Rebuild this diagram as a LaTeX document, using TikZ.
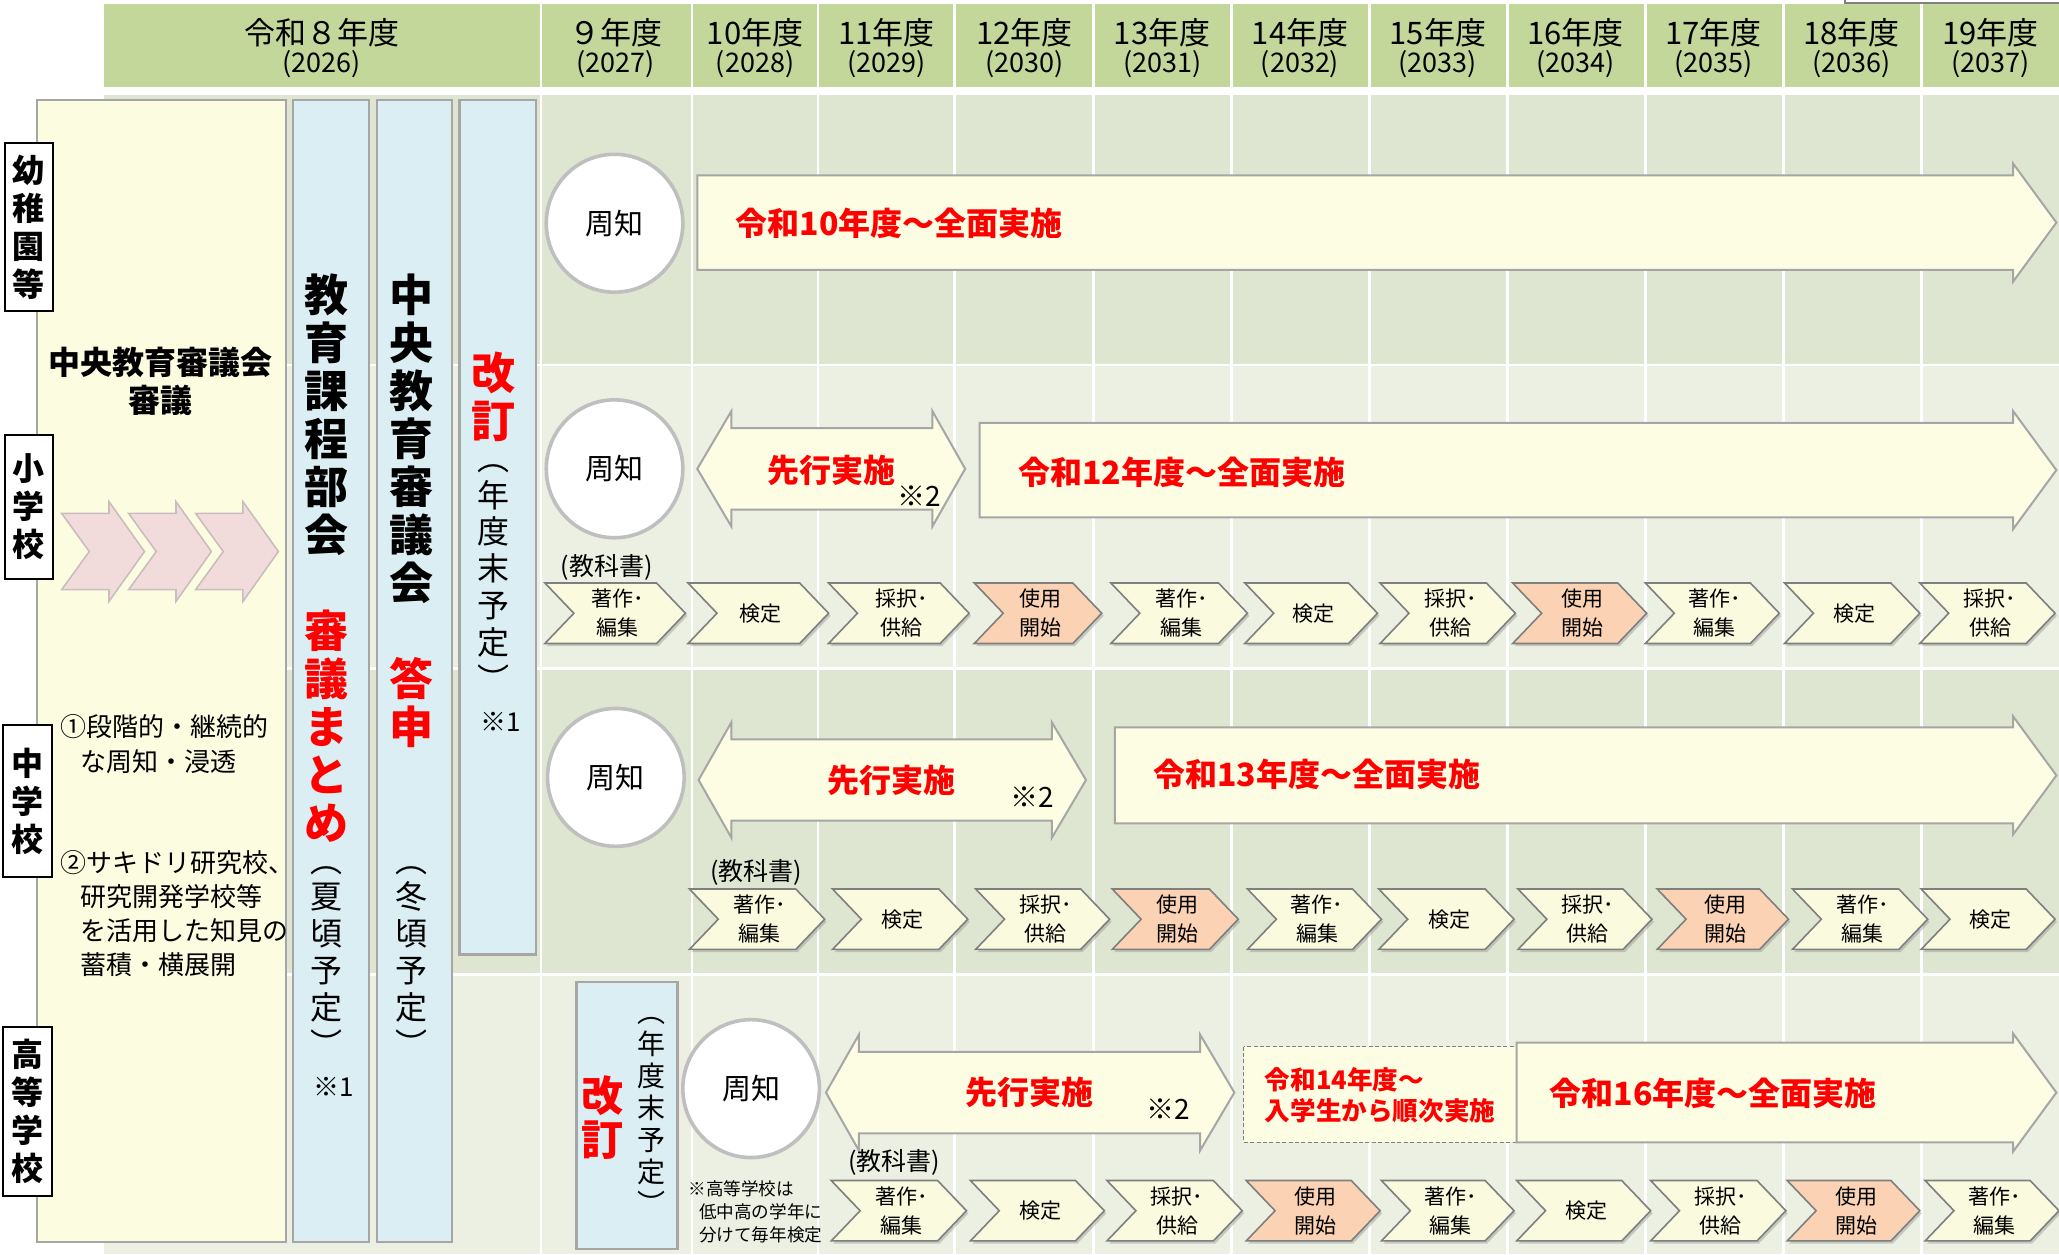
\documentclass[tikz,border=0pt]{standalone}
\usepackage{fontspec}
\setmainfont{Noto Sans CJK JP}
\usetikzlibrary{shapes.geometric,shadows}
\definecolor{hdr}{HTML}{C4D79B}
\definecolor{rowA}{HTML}{DEE6D1}
\definecolor{rowB}{HTML}{EBF0E2}
\definecolor{ylw}{HTML}{FCFCE1}
\definecolor{ylw2}{HTML}{FDFDE3}
\definecolor{blu}{HTML}{DAEEF3}
\definecolor{chv}{HTML}{FAFADE}
\definecolor{sal}{HTML}{FBD3B4}
\definecolor{pnk}{HTML}{F2DCDB}
\definecolor{pnkb}{HTML}{C9BDBD}
\definecolor{bord}{HTML}{A6A6A6}
\definecolor{chvb}{HTML}{7F7F7F}
\definecolor{circb}{HTML}{BFBFBF}
\definecolor{red1}{HTML}{FF0000}
\newcommand\myfs[2]{\fontsize{#1pt}{#2pt}\selectfont}
\newcommand\txTH{著作･\\編集}
\newcommand\txKT{検定}
\newcommand\txSK{採択･\\供給}
\newcommand\txSY{使用\\開始}
\tikzset{
  chevline/.style={draw=chvb, line width=0.8pt},
  chevtext/.style={inner sep=0pt, align=center, font=\myfs{10.5}{14.5}},
  arrst/.style={fill=ylw2, draw=bord, line width=1pt},
  vt/.style={inner sep=0pt, align=center},
  lbl/.style={draw=black, line width=1pt, fill=white, inner sep=0pt, align=center, font=\myfs{16}{19}\bfseries},
  circ/.style={ellipse, draw=circb, line width=1.8pt, fill=white, inner sep=0pt, minimum width=104*0.65655pt, minimum height=105*0.65655pt, font=\myfs{14.5}{16}},
  redb/.style={text=red1, font=\myfs{16}{18}\bfseries, inner sep=0pt},
  panel/.style={fill=blu, draw=bord, line width=1.2pt},
  note/.style={inner sep=0pt, font=\myfs{14}{16}},
}
\newcommand\chevstep[6]{%
  \filldraw[chevline, fill=#5, drop shadow={shadow xshift=1pt, shadow yshift=-1.3pt, opacity=0.35}] (#2,#4-23) -- (#3-22,#4-23) -- (#3,#4) -- (#3-22,#4+23) -- (#2,#4+23) -- (#2+22,#4) -- cycle;
  \node[chevtext] (#1) at ({(#2+#3)/2+2},#4) {#6};}
\newcommand\pinkchev[1]{%
  \filldraw[fill=pnk, draw=pnkb, line width=0.8pt] (#1,391) -- (#1+36,391) -- (#1+36,382) -- (#1+63,420) -- (#1+36,458) -- (#1+36,449) -- (#1,449) -- (#1+21,420) -- cycle;}
\newcommand\bigarrow[4]{% x1, yc, half body, point x
  \filldraw[arrst] (#1,#2-#3) -- (1533,#2-#3) -- (1533,#2-45) -- (#4,#2) -- (1533,#2+45) -- (1533,#2+#3) -- (#1,#2+#3) -- cycle;}
\newcommand\dblarrow[5]{% xl, xbl, xbr, xr, yc
  \filldraw[arrst] (#1,#5) -- (#2,#5-44) -- (#2,#5-31) -- (#3,#5-31) -- (#3,#5-44) -- (#4,#5) -- (#3,#5+44) -- (#3,#5+31) -- (#2,#5+31) -- (#2,#5+44) -- cycle;}
\begin{document}
\begin{tikzpicture}[x=0.65655pt,y=-0.65655pt]
\useasboundingbox (0,0) rectangle (1568,955);
\clip (0,0) rectangle (1568,955);
\fill[white] (0,0) rectangle (1568,955);
% header band
\fill[hdr] (79,3) rectangle (1568,66);
% body rows
\fill[rowA] (79,72) rectangle (1568,277);
\fill[rowB] (79,279) rectangle (1568,508);
\fill[rowA] (79,510) rectangle (1568,741);
\fill[rowB] (79,743) rectangle (1568,955);
\foreach \gx in {412,527,623,727,833,938,1043,1148,1253,1358,1463}
  \draw[white, line width=1.4pt] (\gx,0) -- (\gx,955);
\draw[draw=gray, line width=1pt, fill=white] (1405,-10) rectangle (1580,2.5);
% header texts
\foreach \xc/\ya/\yb [count=\i] in {245/令和８年度/2026, 469/９年度/2027, 575/10年度/2028, 675/11年度/2029, 780/12年度/2030, 885/13年度/2031, 990/14年度/2032, 1095/15年度/2033, 1200/16年度/2034, 1305/17年度/2035, 1410/18年度/2036, 1516/19年度/2037}{
  \node[inner sep=0pt, font=\myfs{15.5}{17}] (H\i) at (\xc,25) {\ya};
  \node[inner sep=0pt, font=\myfs{13.5}{15}] (Y\i) at (\xc,48.5) {(\yb)};
}
% left yellow box
\draw[fill=ylw, draw=bord, line width=0.8pt] (28,76) rectangle (218,946);
\node[inner sep=0pt, align=center, font=\myfs{16}{19}\bfseries] (cc) at (122,290.5) {中央教育審議会\\審議};
\pinkchev{47}\pinkchev{98}\pinkchev{149}
\node[inner sep=0pt, anchor=west, align=left, font=\myfs{13}{17.5}] (li1) at (46,566.5) {①段階的・継続的\\\hspace*{0.77em}な周知・浸透};
\node[inner sep=0pt, anchor=west, align=left, font=\myfs{13}{17}] (li2) at (46,696) {②サキドリ研究校、\\\hspace*{0.77em}研究開発学校等\\\hspace*{0.77em}を活用した知見の\\\hspace*{0.77em}蓄積・横展開};
% blue panels
\draw[panel] (223,76) rectangle (281,946);
\draw[panel] (287,76) rectangle (344,946);
\draw[panel] (350,76) rectangle (408,727);
\draw[panel] (439,748) rectangle (516,951);
\node[vt, font=\myfs{22}{24}\bfseries] (P1a) at (249,316) {教\\育\\課\\程\\部\\会};
\node[vt, font=\myfs{22}{24}\bfseries, text=red1] (P1b) at (249,553) {審\\議\\ま\\と\\め};
\node[vt, font=\myfs{16}{18.4}] (P1c) at (249,732) {︵\\夏\\頃\\予\\定\\︶};
\node[inner sep=0pt, font=\myfs{13}{14}] (P1d) at (254,828) {※1};
\node[vt, font=\myfs{22}{24}\bfseries] (P2a) at (313,334) {中\\央\\教\\育\\審\\議\\会};
\node[vt, font=\myfs{22}{24}\bfseries, text=red1] (P2b) at (313,535) {答\\申};
\node[vt, font=\myfs{16}{18.4}] (P2c) at (313,732) {︵\\冬\\頃\\予\\定\\︶};
\node[vt, font=\myfs{22}{24}\bfseries, text=red1] (P3a) at (376,302) {改\\訂};
\node[vt, font=\myfs{16}{18.4}] (P3b) at (376,440) {︵\\年\\度\\末\\予\\定\\︶};
\node[inner sep=0pt, font=\myfs{13}{14}] (P3c) at (381,550) {※1};
\node[vt, font=\myfs{21}{22.4}\bfseries, text=red1] (P4a) at (459,851) {改\\訂};
\node[vt, font=\myfs{14}{16}] (P4b) at (496,850) {︵\\年\\度\\末\\予\\定\\︶};
% row labels
\node[lbl, minimum width=37*0.65655pt, minimum height=128*0.65655pt] (L1) at (22,173) {幼\\稚\\園\\等};
\node[lbl, minimum width=37*0.65655pt, minimum height=110*0.65655pt] (L2) at (22,386) {小\\学\\校};
\node[lbl, minimum width=37*0.65655pt, minimum height=116*0.65655pt] (L3) at (21,610) {中\\学\\校};
\node[lbl, minimum width=37*0.65655pt, minimum height=129*0.65655pt] (L4) at (21,846.5) {高\\等\\学\\校};
% circles
\node[circ] (S1) at (468,170) {周知};
\node[circ] (S2) at (468,357) {周知};
\node[circ] (S3) at (469,592) {周知};
\node[circ] (S4) at (572,829) {周知};
% arrows
\bigarrow{531}{169.5}{36}{1566}
\bigarrow{746}{358}{36}{1566}
\bigarrow{849}{590.5}{36.5}{1566}
\dblarrow{531}{557}{710}{735}{357}
\dblarrow{532}{557}{801}{827}{594}
\dblarrow{629}{654}{914}{940}{832}
\filldraw[fill=ylw2, draw=gray, line width=0.7pt, dash pattern=on 2pt off 1.2pt] (947,797) rectangle (1162,870);
\bigarrow{1155}{832}{38}{1566}
% arrow texts
\node[redb, anchor=west] (T1) at (560,170) {令和10年度～全面実施};
\node[redb, anchor=west] (T2) at (775,359.5) {令和12年度～全面実施};
\node[redb, anchor=west] (T3) at (878,590) {令和13年度～全面実施};
\node[redb, anchor=west] (T4) at (1180,832.5) {令和16年度～全面実施};
\node[redb, anchor=west, align=left, font=\myfs{12.8}{15.8}\bfseries] (T5) at (963,834) {令和14年度～\\入学生から順次実施};
\node[redb] (A1) at (633,358) {先行実施};
\node[redb] (A2) at (679,594) {先行実施};
\node[redb] (A3) at (784,832) {先行実施};
\node[note] (N1) at (700,378) {※2};
\node[note] (N2) at (786,607) {※2};
\node[note] (N3) at (890,845) {※2};
% textbook labels
\node[inner sep=0pt, font=\myfs{12.5}{14}] (K1) at (462,432) {(教科書)};
\node[inner sep=0pt, font=\myfs{12.5}{14}] (K2) at (576,664) {(教科書)};
\node[inner sep=0pt, font=\myfs{12.5}{14}] (K3) at (681,885) {(教科書)};
\node[inner sep=0pt, anchor=west, align=left, font=\myfs{8.8}{11.5}] (NT) at (524,922.5) {※高等学校は\\\hspace*{0.6em}低中高の学年に\\\hspace*{0.6em}分けて毎年検定};
% chevron rows
\chevstep{a1}{415}{522}{467}{chv}{\txTH}
\chevstep{a2}{524}{631}{467}{chv}{\txKT}
\chevstep{a3}{631}{738}{467}{chv}{\txSK}
\chevstep{a4}{742}{839}{467}{sal}{\txSY}
\chevstep{a5}{846}{950}{467}{chv}{\txTH}
\chevstep{a6}{948}{1049}{467}{chv}{\txKT}
\chevstep{a7}{1051}{1154}{467}{chv}{\txSK}
\chevstep{a8}{1152}{1254}{467}{sal}{\txSY}
\chevstep{a9}{1253}{1355}{467}{chv}{\txTH}
\chevstep{a10}{1359}{1462}{467}{chv}{\txKT}
\chevstep{a11}{1462}{1565}{467}{chv}{\txSK}
\chevstep{b1}{525}{628}{700}{chv}{\txTH}
\chevstep{b2}{634}{737}{700}{chv}{\txKT}
\chevstep{b3}{743}{845}{700}{chv}{\txSK}
\chevstep{b4}{847}{943}{700}{sal}{\txSY}
\chevstep{b5}{950}{1052}{700}{chv}{\txTH}
\chevstep{b6}{1050}{1153}{700}{chv}{\txKT}
\chevstep{b7}{1156}{1258}{700}{chv}{\txSK}
\chevstep{b8}{1262}{1362}{700}{sal}{\txSY}
\chevstep{b9}{1365}{1468}{700}{chv}{\txTH}
\chevstep{b10}{1463}{1565}{700}{chv}{\txKT}
\chevstep{c1}{633}{736}{922}{chv}{\txTH}
\chevstep{c2}{739}{841}{922}{chv}{\txKT}
\chevstep{c3}{843}{946}{922}{chv}{\txSK}
\chevstep{c4}{949}{1051}{922}{sal}{\txSY}
\chevstep{c5}{1052}{1153}{922}{chv}{\txTH}
\chevstep{c6}{1155}{1257}{922}{chv}{\txKT}
\chevstep{c7}{1257}{1360}{922}{chv}{\txSK}
\chevstep{c8}{1361}{1462}{922}{sal}{\txSY}
\chevstep{c9}{1466}{1568}{922}{chv}{\txTH}
\end{tikzpicture}
\end{document}
